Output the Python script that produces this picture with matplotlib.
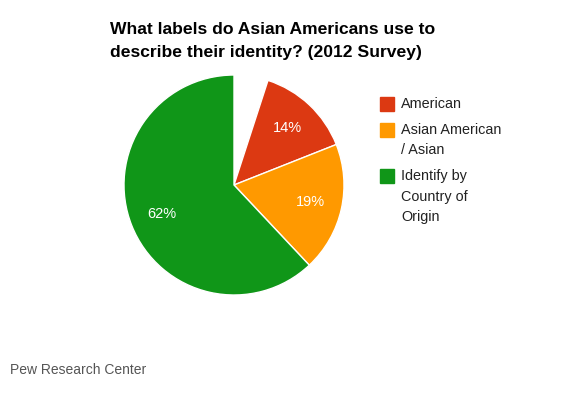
import matplotlib
matplotlib.use("Agg")
import matplotlib.pyplot as plt
import numpy as np
from matplotlib.patches import Rectangle

plt.rcParams['font.family'] = ['Liberation Sans', 'DejaVu Sans']

labels = ['American', 'Asian American\n/ Asian', 'Identify by\nCountry of\nOrigin']
values = [14, 19, 62]
colors = ['#dc3912', '#ff9900', '#109618']
gap = 100 - sum(values)  # unlabeled share, left blank

W, H = 579, 395
fig = plt.figure(figsize=(W / 100, H / 100), dpi=100)

# pie area: center (234,185), radius 110 px
ax = fig.add_axes([124 / W, (H - 295) / H, 220 / W, 220 / H])
ax.pie([gap] + values, colors=['white'] + colors, startangle=90,
       counterclock=False, radius=1,
       wedgeprops=dict(edgecolor='white', linewidth=1))
ax.set_xlim(-1, 1)
ax.set_ylim(-1, 1)
ax.set_aspect('equal')
ax.axis('off')

total = gap + sum(values)
cum = gap
for v in values:
    mid = 90 - (cum + v / 2) / total * 360
    cum += v
    ax.text(0.71 * np.cos(np.radians(mid)), 0.71 * np.sin(np.radians(mid)),
            f'{v}%', color='white', fontsize=10.5, ha='center', va='center')

fig.text(110 / W, 1 - 30 / H, 'What labels do Asian Americans use to',
         fontsize=12.6, fontweight='bold', ha='left', va='center', color='black')
fig.text(110 / W, 1 - 52 / H, 'describe their identity? (2012 Survey)',
         fontsize=12.6, fontweight='bold', ha='left', va='center', color='black')

# legend
legend_y = [104, 130, 176]
for lab, col, y in zip(labels, colors, legend_y):
    fig.patches.append(Rectangle((380 / W, 1 - (y + 7) / H), 14 / W, 14 / H,
                                 transform=fig.transFigure, color=col))
    for i, line in enumerate(lab.split('\n')):
        fig.text(401 / W, 1 - (y + i * 20.5) / H, line, fontsize=10.4,
                 ha='left', va='center', color='#222222')

fig.text(10 / W, 1 - 370 / H, 'Pew Research Center', fontsize=10,
         ha='left', va='center', color='#555555')

fig.savefig('out.png', dpi=100, facecolor='white')
